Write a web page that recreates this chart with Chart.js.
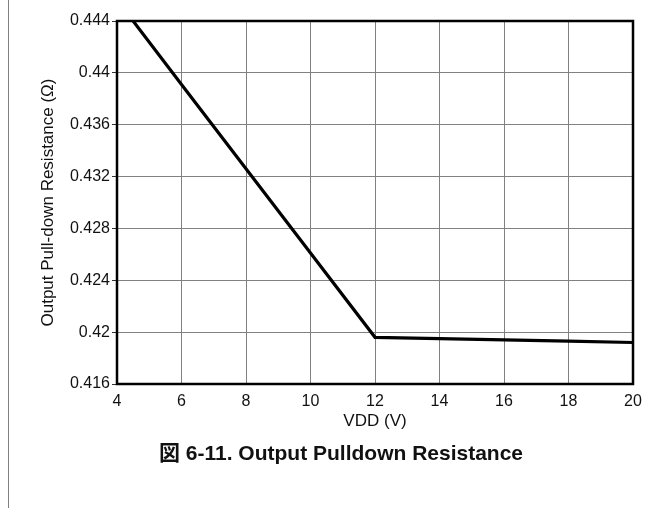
<!DOCTYPE html>
<html>
<head>
<meta charset="utf-8">
<script src="https://cdn.jsdelivr.net/npm/chart.js@4/dist/chart.umd.min.js"></script>
<style>
  html, body { margin: 0; padding: 0; background: #fff; }
  #wrap { width: 667px; height: 508px; position: relative; }
</style>
</head>
<body>
<div id="wrap"><canvas id="mycanvas" width="667" height="508"></canvas></div>
<script>
// values
var vdd = [4.5, 6, 8, 10, 12, 14, 16, 18, 20];
var resistance = [0.444, 0.4391, 0.4326, 0.4261, 0.4196, 0.4195, 0.4194, 0.4193, 0.4192];

var xTicks = [4, 6, 8, 10, 12, 14, 16, 18, 20];
var yTicks = [0.416, 0.42, 0.424, 0.428, 0.432, 0.436, 0.44, 0.444];

var caption = "図 6-11. Output Pulldown Resistance";
var fontFamily = "'Liberation Sans', Arial, 'Noto Sans CJK JP', sans-serif";

var points = [];
for (var i in vdd) {
	points.push({x: vdd[i], y: resistance[i]});
}

// frame round the plot, page rule on the left, caption below
var extras = {
	id: 'extras',
	afterDraw: function(chart) {
		var ctx = chart.ctx;
		var a = chart.chartArea;
		ctx.save();
		ctx.strokeStyle = '#000';
		ctx.lineWidth = 2.5;
		ctx.strokeRect(a.left, a.top, a.right - a.left, a.bottom - a.top);

		ctx.strokeStyle = '#808080';
		ctx.lineWidth = 1;
		ctx.beginPath();
		ctx.moveTo(8.5, 0);
		ctx.lineTo(8.5, chart.height);
		ctx.stroke();

		ctx.fillStyle = '#111';
		ctx.font = "bold 21px " + fontFamily;
		ctx.textAlign = 'center';
		ctx.textBaseline = 'middle';
		ctx.fillText(caption, 341, 454);
		ctx.restore();
	}
};

var ctx = document.getElementById('mycanvas');

var LineGraph = new Chart(ctx, {
	type: 'line',
	data: {
		datasets: [{
			data: points,
			borderColor: '#000',
			borderWidth: 3.2,
			pointRadius: 0,
			fill: false,
			tension: 0
		}]
	},
	options: {
		responsive: false,
		animation: false,
		layout: { padding: { top: 21, right: 34, left: 0, bottom: 76 } },
		plugins: { legend: { display: false }, tooltip: { enabled: false } },
		scales: {
			x: {
				type: 'linear',
				min: 4,
				max: 20,
				afterBuildTicks: function(s) { s.ticks = xTicks.map(function(v){ return {value: v}; }); },
				afterFit: function(s) { s.height = 48; },
				grid: { color: '#808080', lineWidth: 1, drawTicks: false },
				border: { display: false },
				ticks: {
					color: '#111',
					padding: 8,
					maxRotation: 0,
					font: { family: fontFamily, size: 16 },
					callback: function(v) { return String(v); }
				},
				title: {
					display: true,
					text: 'VDD (V)',
					color: '#111',
					padding: { top: 0, bottom: 0 },
					font: { family: fontFamily, size: 17 }
				}
			},
			y: {
				min: 0.416,
				max: 0.444,
				afterBuildTicks: function(s) { s.ticks = yTicks.map(function(v){ return {value: v}; }); },
				afterFit: function(s) { s.width = 117; },
				grid: { color: '#808080', lineWidth: 1, tickLength: 5, tickColor: '#333' },
				border: { display: false },
				ticks: {
					color: '#111',
					padding: 2,
					font: { family: fontFamily, size: 16 },
					callback: function(v) { return String(v); }
				},
				title: {
					display: true,
					text: 'Output Pull-down Resistance (Ω)',
					color: '#111',
					padding: { top: 38, bottom: 0 },
					font: { family: fontFamily, size: 17 }
				}
			}
		}
	},
	plugins: [extras]
});
</script>
</body>
</html>
